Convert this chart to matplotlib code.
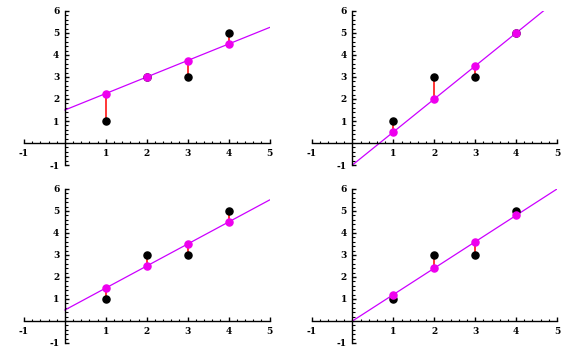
import numpy as np
import matplotlib.pyplot as plt
from matplotlib.ticker import MultipleLocator

plt.rcParams['axes.unicode_minus'] = False

# data points (same in all panels)
xs = [1, 2, 3, 4]
ys = [1, 3, 3, 5]

# fitted lines, one per panel: value at x=0 and at x=5
line_y0 = [1.5, -1.0, 0.5, 0.0]
line_y5 = [5.25, 6.5, 5.5, 6.0]

# fitted values at the data points
fits = [
    [2.25, 3.0, 3.75, 4.5],
    [0.5, 2.0, 3.5, 5.0],
    [1.5, 2.5, 3.5, 4.5],
    [1.2, 2.4, 3.6, 4.8],
]

W, H = 579, 356
# panel boxes in pixels: left, right, top, bottom (x=-1..5, y=-1..6)
boxes = [
    (24, 269.5, 11, 165),
    (311.5, 557, 11, 165),
    (24, 269.5, 189, 343),
    (311.5, 557, 189, 343),
]

fig = plt.figure(figsize=(W / 100, H / 100), dpi=100)

for k, (l, r, t, b) in enumerate(boxes):
    ax = fig.add_axes([l / W, 1 - b / H, (r - l) / W, (b - t) / H])
    ax.set_xlim(-1, 5)
    ax.set_ylim(-1, 6)
    for s in ['top', 'right']:
        ax.spines[s].set_visible(False)
    ax.spines['left'].set_position(('data', 0))
    ax.spines['bottom'].set_position(('data', 0))
    ax.spines['left'].set_linewidth(1.0)
    ax.spines['bottom'].set_linewidth(1.0)
    ax.set_xticks([-1, 1, 2, 3, 4, 5])
    ax.set_yticks([-1, 1, 2, 3, 4, 5, 6])
    ax.xaxis.set_minor_locator(MultipleLocator(0.2))
    ax.yaxis.set_minor_locator(MultipleLocator(0.2))
    ax.tick_params(which='major', direction='in', length=3, width=1, pad=4,
                   labelsize=6.5)
    ax.tick_params(which='minor', direction='in', length=1.8, width=0.8)
    for lab in ax.get_xticklabels() + ax.get_yticklabels():
        lab.set_fontweight('bold')
        lab.set_family('DejaVu Serif')
    ax.patch.set_visible(False)

    ax.plot([0, 5], [line_y0[k], line_y5[k]], color='#CC00FF', lw=0.9, zorder=2)
    ax.vlines(xs, ys, fits[k], color='red', lw=1.1, zorder=3)
    ax.scatter(xs, ys, s=26, color='black', zorder=4, clip_on=False)
    ax.scatter(xs, fits[k], s=26, color='#EE00EE', zorder=5, clip_on=False)

plt.savefig('out.png', dpi=100)
